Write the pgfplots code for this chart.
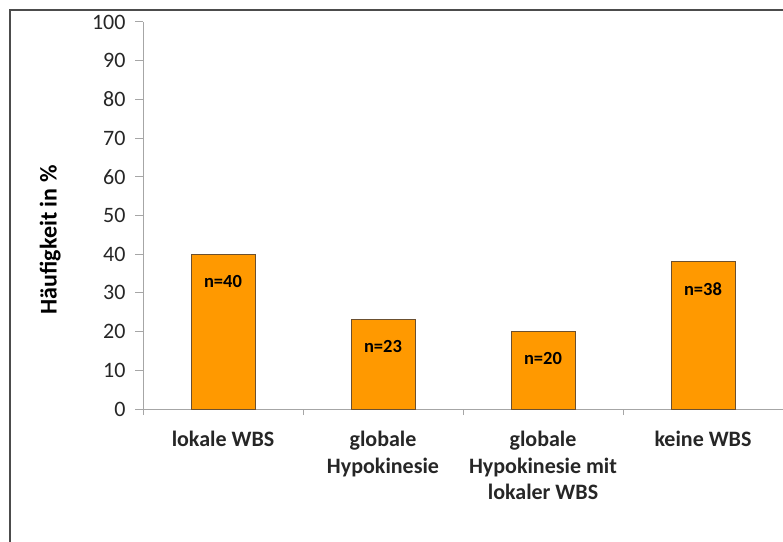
\documentclass[border=0pt]{standalone}
\usepackage{fontspec}
\setmainfont{Carlito}
\usepackage{pgfplots}
\pgfplotsset{compat=1.18}
\definecolor{barfill}{HTML}{FF9900}
\definecolor{baredge}{HTML}{6B5030}
\definecolor{axgray}{HTML}{A6A6A6}
\begin{document}
\begin{tikzpicture}[x=1pt,y=1pt]
\path[use as bounding box] (0,0) rectangle (783,541);
\draw[line width=2pt, color=black!70] (10,-5) -- (10,531) -- (790,531);
\begin{axis}[
  at={(143pt,132pt)}, anchor=south west,
  scale only axis, width=640pt, height=387pt,
  xmin=-0.5, xmax=3.5, ymin=0, ymax=100,
  ytick={0,10,...,100},
  xtick={0,1,2,3},
  xticklabels={lokale WBS, globale\\Hypokinesie, globale\\Hypokinesie mit\\lokaler WBS, keine WBS},
  minor xtick={-0.5,0.5,1.5,2.5,3.5},
  axis x line*=bottom, axis y line*=left,
  axis line style={axgray, line width=1pt},
  tick style={axgray, line width=1pt},
  major x tick style={draw=none},
  major tick length=8pt, minor tick length=6pt,
  tick align=outside,
  /pgf/number format/assume math mode=true,
  yticklabel style={font=\fontsize{22}{22}\selectfont, text=black!85, xshift=-6pt},
  xticklabel style={font=\fontsize{22}{26.5}\selectfont\bfseries, text=black!85, align=center, anchor=north, yshift=-11pt},
  ylabel={Häufigkeit in \%},
  ylabel style={font=\fontsize{24}{24}\selectfont\bfseries, at={(axis description cs:-0.145,0.437)}, anchor=center},
  ybar, bar width=64pt,
  clip=false,
  point meta=explicit symbolic,
  nodes near coords,
  every node near coord/.append style={anchor=center, yshift=-27pt, font=\fontsize{18.5}{18.5}\selectfont\bfseries, text=black},
]
\addplot[fill=barfill, draw=baredge, line width=1pt] coordinates {(0,40) [n=40] (1,23) [n=23] (2,20) [n=20] (3,38) [n=38]};
\end{axis}
\end{tikzpicture}
\end{document}
